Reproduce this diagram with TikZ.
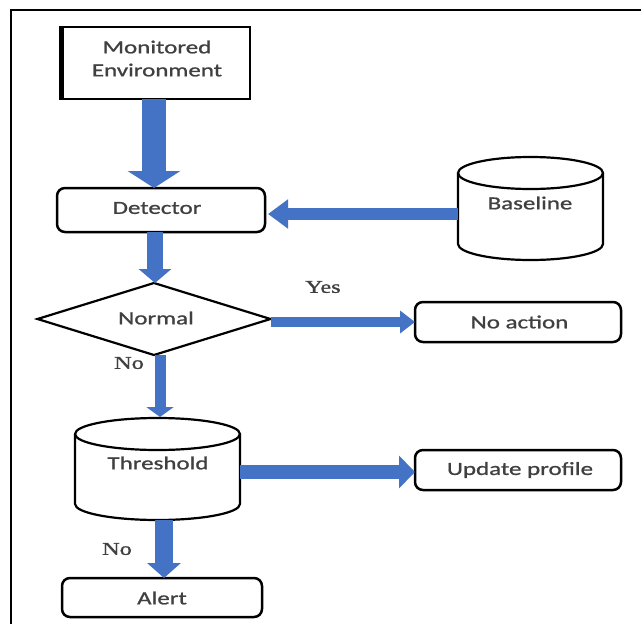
\documentclass[tikz,border=0pt]{standalone}
\usepackage{fontspec}
\usetikzlibrary{arrows.meta,shapes.geometric}
\newfontfamily\boxfont{Carlito}[FakeStretch=1.35,FakeBold=1]
\newfontfamily\tagfont{Liberation Serif}[FakeStretch=1.35,FakeBold=1.2]
\definecolor{flowblue}{RGB}{68,114,196}
\definecolor{inkgray}{RGB}{64,64,64}
\tikzset{
  x=1pt, y=-1pt,
  every node/.style={inner sep=0pt, outer sep=0pt},
  boxlabel/.style={font=\boxfont\fontsize{18.5}{23}\selectfont, text=inkgray, align=center},
  plainbox/.style={draw=black, line width=2.5pt},
  roundbox/.style={plainbox, rounded corners=8pt, boxlabel},
  cylbox/.style={boxlabel},
  decision/.style={diamond, draw=black, line width=2.2pt, aspect=3.2},
  taglabel/.style={font=\tagfont\fontsize{18}{20}\selectfont, text=inkgray},
  blockarrow/.style={draw=flowblue, line width=#1},
}
% cylinder outline around a named node: #1 node, #2 half width, #3 ellipse radius
\newcommand{\drumoutline}[3]{%
  \draw[line width=2.2pt]
    ([yshift=-#3]#1.north west) -- ([yshift=#3]#1.south west)
    arc[start angle=180, end angle=360, x radius=#2, y radius=#3]
    -- ([yshift=-#3]#1.north east);
  \draw[line width=2.2pt] ([yshift=-#3]#1.north) ellipse[x radius=#2, y radius=#3];
}
\begin{document}
\begin{tikzpicture}
  \useasboundingbox (0,0) rectangle (641,624);
  \fill[white] (0,0) rectangle (641,624);

  % outer frame (top and left rules)
  \draw[line width=2pt] (11,624) -- (11,10) -- (641,10);

  % source box with heavy left edge
  \node[plainbox, minimum width=190pt, minimum height=72pt] (env) at (155,63) {};
  \draw[line width=5pt] ([xshift=1.2pt]env.north west) -- ([xshift=1.2pt]env.south west);
  \node[boxlabel] (envtext) at (157,58.5) {Monitored\\Environment};

  \node[roundbox, minimum width=208pt, minimum height=44pt] (det) at (161,210) {};
  \node[boxlabel] (dettext) at (157,208) {Detector};

  \node[cylbox, minimum width=145pt, minimum height=103pt] (base) at (530.5,208.5) {};
  \drumoutline{base}{72.5pt}{16pt}
  \node[boxlabel] (basetext) at (530,203) {Baseline};

  \node[decision, minimum width=233pt, minimum height=72pt] (norm) at (154,319) {};
  \node[boxlabel] (normtext) at (156,318) {Normal};

  \node[roundbox, minimum width=206pt, minimum height=40pt] (noact) at (518,322) {};
  \node[boxlabel] (noacttext) at (519.5,322) {No action};

  \node[cylbox, minimum width=165pt, minimum height=102pt] (thr) at (157.5,469) {};
  \drumoutline{thr}{82.5pt}{16pt}
  \node[boxlabel] (thrtext) at (158,463) {Threshold};

  \node[roundbox, minimum width=206pt, minimum height=40pt] (upd) at (518,470) {};
  \node[boxlabel] (updtext) at (520,470) {Update profile};

  \node[roundbox, minimum width=200pt, minimum height=39pt] (alert) at (162,597.5) {};
  \node[boxlabel] (alerttext) at (162,598) {Alert};

  % connectors (yshift is in page direction: negative moves down)
  \draw[blockarrow=24pt, -{Triangle[width=52pt,length=17pt]}]
    ([xshift=-1pt]env.south) -- ([xshift=-7pt]det.north);
  \draw[blockarrow=12pt, -{Triangle[width=28pt,length=20pt]}]
    ([yshift=-5.5pt]base.west) -- ([xshift=3pt,yshift=-4pt]det.east);
  \draw[blockarrow=16pt, -{Triangle[width=32pt,length=14pt]}]
    ([xshift=-6pt]det.south) -- ([xshift=1pt]norm.north);
  \draw[blockarrow=10pt, -{Triangle[width=22pt,length=15pt]}]
    ([yshift=-3pt]norm.east) -- (noact.west);
  \draw[blockarrow=11pt, -{Triangle[width=27pt,length=10pt]}]
    ([xshift=6pt]norm.south) -- ([xshift=2.5pt,yshift=1pt]thr.north);
  \draw[blockarrow=14pt, -{Triangle[width=32pt,length=16pt]}]
    ([yshift=-3pt]thr.east) -- ([yshift=-2pt]upd.west);
  \draw[blockarrow=18pt, -{Triangle[width=33pt,length=15pt]}]
    ([xshift=6.5pt]thr.south) -- ([xshift=2pt]alert.north);

  % branch labels
  \node[taglabel] (yes) at (323,287) {Yes};
  \node[taglabel] (no1) at (129,363) {No};
  \node[taglabel] (no2) at (117,549) {No};
\end{tikzpicture}
\end{document}
